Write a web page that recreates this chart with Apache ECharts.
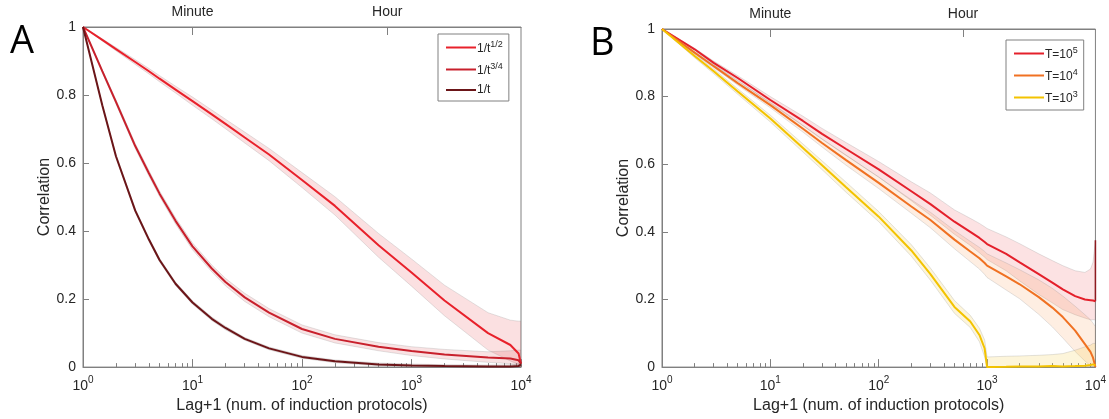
<!DOCTYPE html>
<html>
<head>
<meta charset="utf-8">
<script src="https://cdn.jsdelivr.net/npm/echarts@6/dist/echarts.min.js"></script>
<style>
  html, body { margin: 0; padding: 0; background: #fff; }
  #chart { width: 1109px; height: 419px; }
</style>
</head>
<body>
<div id="chart"></div>
<script>
// ---- data ----
const xA = [1, 1.5, 2, 3, 4, 5, 7, 10, 15, 20, 30, 50, 100, 200, 500, 1000, 2000, 5000, 8000, 9500, 10000];
// 1/t^(1/2)
const a1Line  = [1, 0.962, 0.935, 0.897, 0.87, 0.848, 0.816, 0.782, 0.743, 0.715, 0.675, 0.625, 0.55, 0.474, 0.358, 0.278, 0.196, 0.1, 0.065, 0.04, 0.01];
const a1Upper = [1, 0.965, 0.94, 0.904, 0.878, 0.857, 0.826, 0.794, 0.756, 0.729, 0.691, 0.643, 0.572, 0.501, 0.393, 0.318, 0.241, 0.16, 0.138, 0.135, 0.135];
const a1Lower = [1, 0.959, 0.93, 0.89, 0.862, 0.839, 0.806, 0.77, 0.73, 0.701, 0.659, 0.607, 0.528, 0.447, 0.323, 0.238, 0.151, 0.05, 0.018, 0.008, 0];
// 1/t^(3/4)
const a2Line  = [1, 0.87, 0.78, 0.65, 0.57, 0.51, 0.43, 0.355, 0.29, 0.25, 0.205, 0.16, 0.112, 0.083, 0.06, 0.047, 0.037, 0.028, 0.025, 0.02, 0.01];
const a2Upper = [1, 0.874, 0.786, 0.657, 0.578, 0.518, 0.439, 0.365, 0.3, 0.261, 0.217, 0.172, 0.124, 0.095, 0.072, 0.06, 0.052, 0.045, 0.048, 0.05, 0.05];
const a2Lower = [1, 0.866, 0.774, 0.643, 0.562, 0.502, 0.421, 0.345, 0.28, 0.239, 0.193, 0.148, 0.1, 0.071, 0.048, 0.034, 0.024, 0.014, 0.01, 0.005, 0];
// 1/t
const a3Line  = [1, 0.77, 0.62, 0.46, 0.375, 0.315, 0.245, 0.19, 0.142, 0.115, 0.083, 0.055, 0.03, 0.017, 0.008, 0.005, 0.003, 0.002, 0.002, 0.003, 0.008];
const a3Upper = [1, 0.773, 0.624, 0.465, 0.38, 0.32, 0.25, 0.195, 0.147, 0.12, 0.087, 0.059, 0.034, 0.021, 0.012, 0.009, 0.007, 0.006, 0.007, 0.01, 0.02];
const a3Lower = [1, 0.767, 0.616, 0.455, 0.37, 0.31, 0.24, 0.185, 0.137, 0.11, 0.079, 0.051, 0.026, 0.013, 0.004, 0.001, 0, 0, 0, 0, 0];

const xB = [1, 2, 3, 5, 10, 20, 30, 50, 100, 200, 300, 500, 700, 850, 950, 1000, 1500, 2000, 3000, 4000, 5000, 6500, 8000, 9000, 9500, 10000];
// T = 10^5
const b5Line  = [1, 0.94, 0.9, 0.855, 0.79, 0.728, 0.69, 0.645, 0.585, 0.52, 0.482, 0.43, 0.4, 0.382, 0.37, 0.364, 0.335, 0.31, 0.275, 0.25, 0.23, 0.21, 0.2, 0.198, 0.197, 0.195];
const b5Upper = [1, 0.943, 0.905, 0.862, 0.8, 0.742, 0.706, 0.664, 0.608, 0.548, 0.515, 0.465, 0.44, 0.425, 0.415, 0.41, 0.385, 0.365, 0.335, 0.315, 0.3, 0.285, 0.28, 0.29, 0.31, 0.375];
const b5Lower = [1, 0.937, 0.895, 0.848, 0.78, 0.714, 0.674, 0.626, 0.562, 0.492, 0.449, 0.393, 0.36, 0.338, 0.325, 0.318, 0.285, 0.255, 0.215, 0.19, 0.17, 0.155, 0.145, 0.14, 0.14, 0.14];
// right-edge segment of the T = 10^5 curve at the last lag
const b5EdgeX = [10000, 10000];
const b5EdgeY = [0.195, 0.375];
// T = 10^4
const b4Line  = [1, 0.93, 0.89, 0.84, 0.775, 0.705, 0.663, 0.612, 0.545, 0.475, 0.435, 0.377, 0.342, 0.322, 0.308, 0.3, 0.268, 0.245, 0.207, 0.176, 0.148, 0.108, 0.068, 0.045, 0.028, 0];
const b4Upper = [1, 0.933, 0.894, 0.846, 0.783, 0.715, 0.675, 0.627, 0.562, 0.495, 0.458, 0.404, 0.372, 0.354, 0.342, 0.335, 0.308, 0.288, 0.258, 0.233, 0.21, 0.18, 0.155, 0.14, 0.13, 0.12];
const b4Lower = [1, 0.927, 0.886, 0.834, 0.767, 0.695, 0.651, 0.597, 0.528, 0.455, 0.412, 0.35, 0.312, 0.29, 0.274, 0.265, 0.228, 0.202, 0.156, 0.119, 0.086, 0.046, 0.018, 0.004, 0, 0];
// T = 10^3
const b3Line  = [1, 0.92, 0.875, 0.815, 0.735, 0.648, 0.597, 0.532, 0.445, 0.345, 0.275, 0.178, 0.135, 0.095, 0.055, 0, 0.001, 0.002, 0.002, 0.003, 0.002, 0.003, 0.004, 0.006, 0.008, 0.005];
const b3Upper = [1, 0.925, 0.882, 0.823, 0.745, 0.66, 0.61, 0.547, 0.46, 0.362, 0.293, 0.197, 0.153, 0.115, 0.08, 0.03, 0.032, 0.033, 0.035, 0.037, 0.04, 0.05, 0.06, 0.065, 0.07, 0.07];
const b3Lower = [1, 0.915, 0.868, 0.807, 0.725, 0.636, 0.584, 0.517, 0.43, 0.328, 0.257, 0.159, 0.117, 0.075, 0.03, 0, 0, 0, 0, 0, 0, 0, 0, 0, 0, 0];

const majorTicks = [1, 10, 100, 1000, 10000];
const minorTicks = [2, 3, 4, 5, 6, 7, 8, 9, 20, 30, 40, 50, 60, 70, 80, 90,
                    200, 300, 400, 500, 600, 700, 800, 900, 2000, 3000, 4000, 5000, 6000, 7000, 8000, 9000];
const timeTicks = [10, 600];
const timeLabels = ['Minute', 'Hour'];
const namesA = ['1/t^1/2', '1/t^3/4', '1/t'];
const namesB = ['T=10^5', 'T=10^4', 'T=10^3'];

// ---- chart ----
const chart = echarts.init(document.getElementById('chart'));
const FONT = 'Liberation Sans, Arial, sans-serif';
const AXIS = '#808080';
const TXT = '#262626';

function pairs(xs, ys) { return xs.map((x, i) => [x, ys[i]]); }

const supRich = {
  b: { fontSize: 14, color: TXT, fontFamily: FONT, verticalAlign: 'bottom' },
  s: { fontSize: 10, color: TXT, fontFamily: FONT, verticalAlign: 'bottom', padding: [0, 0, 8, 0] }
};

function xAxes(grid) {
  return [
    {
      type: 'log', logBase: 10, gridIndex: grid, min: 1, max: 10000, position: 'bottom',
      name: 'Lag+1 (num. of induction protocols)', nameLocation: 'middle', nameGap: 30,
      nameTextStyle: { fontSize: 16, color: TXT, fontFamily: FONT },
      axisLine: { show: true, lineStyle: { color: AXIS, width: 1 } },
      axisTick: { show: true, inside: true, length: 8, customValues: majorTicks, lineStyle: { color: AXIS } },
      axisLabel: {
        customValues: majorTicks, margin: 8,
        formatter: v => '{b|10}{s|' + Math.round(Math.log10(v)) + '}',
        rich: supRich
      },
      splitLine: { show: false }
    },
    {
      // minor ticks 2..9 of every decade
      type: 'log', logBase: 10, gridIndex: grid, min: 1, max: 10000, position: 'bottom', offset: 0,
      axisLine: { show: false },
      axisTick: { show: true, inside: true, length: 4, customValues: minorTicks, lineStyle: { color: AXIS } },
      axisLabel: { show: false },
      splitLine: { show: false }
    },
    {
      type: 'log', logBase: 10, gridIndex: grid, min: 1, max: 10000, position: 'top',
      axisLine: { show: true, lineStyle: { color: AXIS } },
      axisTick: { show: true, inside: true, length: 8, customValues: timeTicks, lineStyle: { color: AXIS } },
      axisLabel: {
        customValues: timeTicks, margin: 8, fontSize: 14, color: TXT, fontFamily: FONT,
        formatter: v => timeLabels[timeTicks.indexOf(v)] || ''
      },
      splitLine: { show: false }
    }
  ];
}

function yAxis(grid) {
  return {
    type: 'value', gridIndex: grid, min: 0, max: 1, interval: 0.2,
    name: 'Correlation', nameLocation: 'middle', nameRotate: 90, nameGap: 30,
    nameTextStyle: { fontSize: 16, color: TXT, fontFamily: FONT },
    axisLine: { show: true, lineStyle: { color: AXIS } },
    axisTick: { show: true, inside: true, length: 6, lineStyle: { color: AXIS } },
    axisLabel: { fontSize: 14, color: TXT, fontFamily: FONT, margin: 7 },
    splitLine: { show: false }
  };
}

// shaded band between lower and upper curves, drawn as one polygon through the axes
function band(id, xi, yi, xs, lo, hi, fill) {
  return {
    name: id, type: 'custom', coordinateSystem: 'cartesian2d',
    xAxisIndex: xi, yAxisIndex: yi, silent: true, z: 1, clip: true,
    data: pairs(xs, lo),
    encode: { x: 0, y: 1 },
    renderItem: (params, api) => {
      if (params.dataIndex !== 0) return null;
      const top = xs.map((x, i) => api.coord([x, hi[i]]));
      const bot = xs.map((x, i) => api.coord([x, lo[i]])).reverse();
      return {
        type: 'polygon',
        shape: { points: top.concat(bot) },
        style: { fill: fill, stroke: 'rgba(140,140,140,0.3)', lineWidth: 0.8 }
      };
    }
  };
}

function line(name, xi, yi, xs, ys, color, width) {
  return {
    name: name, type: 'line', xAxisIndex: xi, yAxisIndex: yi,
    symbol: 'none', z: 3,
    lineStyle: { color: color, width: width || 2 }, itemStyle: { color: color },
    data: pairs(xs, ys)
  };
}

const legendBase = {
  orient: 'vertical', icon: 'rect', itemWidth: 30, itemHeight: 2, itemGap: 7,
  backgroundColor: '#fff', borderColor: AXIS, borderWidth: 1, borderRadius: 0,
  padding: [6, 6, 5, 8],
  textStyle: {
    fontSize: 12, color: TXT, fontFamily: FONT, padding: [0, 0, 0, -4],
    rich: {
      b: { fontSize: 12, color: TXT, fontFamily: FONT, verticalAlign: 'bottom' },
      s: { fontSize: 9, color: TXT, fontFamily: FONT, verticalAlign: 'bottom', padding: [0, 0, 6, 0] }
    }
  },
  formatter: n => {
    const p = n.split('^');
    return '{b|' + p[0] + '}' + (p[1] ? '{s|' + p[1] + '}' : '');
  }
};

const option = {
  animation: false,
  backgroundColor: '#fff',
  textStyle: { fontFamily: FONT },
  grid: [
    { left: 83, width: 438, top: 27, height: 341, show: true, borderColor: AXIS, borderWidth: 1 },
    { left: 662, width: 435, top: 29, height: 339, show: true, borderColor: AXIS, borderWidth: 1 }
  ],
  xAxis: xAxes(0).concat(xAxes(1)),
  yAxis: [yAxis(0), yAxis(1)],
  legend: [
    Object.assign({}, legendBase, { data: namesA, left: 438, top: 34 }),
    Object.assign({}, legendBase, { data: namesB, left: 1006, top: 40 })
  ],
  graphic: [
    { type: 'text', left: 10, top: 23, style: { text: 'A', fontSize: 38, fill: '#000', fontFamily: 'Open Sans, sans-serif' } },
    { type: 'text', left: 590, top: 25, style: { text: 'B', fontSize: 38, fill: '#000', fontFamily: 'Open Sans, sans-serif' } }
  ],
  series: [
    band('a1', 0, 0, xA, a1Lower, a1Upper, 'rgba(232,70,80,0.17)'),
    band('a2', 0, 0, xA, a2Lower, a2Upper, 'rgba(215,60,70,0.15)'),
    band('a3', 0, 0, xA, a3Lower, a3Upper, 'rgba(120,30,30,0.15)'),
    band('b5', 3, 1, xB, b5Lower, b5Upper, 'rgba(232,60,70,0.15)'),
    band('b4', 3, 1, xB, b4Lower, b4Upper, 'rgba(245,140,60,0.15)'),
    band('b3', 3, 1, xB, b3Lower, b3Upper, 'rgba(245,205,70,0.2)'),
    line(namesA[0], 0, 0, xA, a1Line, '#e8212b'),
    line(namesA[1], 0, 0, xA, a2Line, '#c8202c'),
    line(namesA[2], 0, 0, xA, a3Line, '#6b1518'),
    line('b5edge', 3, 1, b5EdgeX, b5EdgeY, '#8e1a1f', 1.5),
    line(namesB[0], 3, 1, xB, b5Line, '#e4202b'),
    line(namesB[1], 3, 1, xB, b4Line, '#f07122'),
    line(namesB[2], 3, 1, xB, b3Line, '#f3c300')
  ]
};
chart.setOption(option);
</script>
</body>
</html>
